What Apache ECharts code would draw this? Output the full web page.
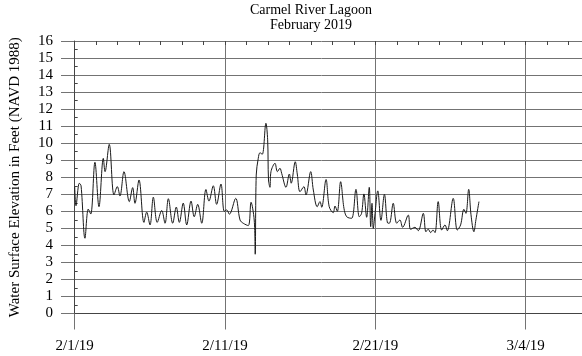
<!DOCTYPE html>
<html>
<head>
<meta charset="utf-8">
<script src="https://cdn.jsdelivr.net/npm/echarts@6/dist/echarts.min.js"></script>
<style>
html,body{margin:0;padding:0;background:#fff;}
#chart{width:582px;height:356px;}
</style>
</head>
<body>
<div id="chart"></div>
<script>
// Days since 2/1/19 00:00
const days = [0.00,0.09,0.32,0.44,0.71,0.94,1.11,1.40,1.68,1.98,2.10,2.39,2.72,2.95,3.13,3.41,3.78,4.01,4.17,4.45,
  4.79,4.98,5.21,5.44,5.71,6.02,6.25,6.48,6.78,7.03,7.24,7.51,7.75,8.05,8.27,8.51,8.79,9.08,9.29,9.59,
  9.82,10.12,10.35,10.52,10.70,11.14,11.44,11.66,12.01,12.20,12.42,12.49,12.56,12.70,12.82,12.98,13.23,13.35,13.41,13.51,
  13.58,13.86,14.02,14.20,14.32,14.62,14.85,14.98,15.26,15.40,15.59,15.86,16.00,16.33,16.51,16.78,16.97,17.09,17.39,17.61,
  17.89,18.01,18.17,18.40,18.63,18.82,19.16,19.46,19.69,19.85,20.01,20.20,20.38,20.48,20.57,20.66,20.77,20.97,21.19,21.43,
  21.67,21.81,22.04,22.28,22.50,22.69,23.08,23.24,23.54,23.77,24.12,24.30,24.46,24.63,24.79,24.93,25.15,25.39,25.62,25.78,
  26.19,26.47,26.70,26.93,27.07,27.26,27.42,27.62,27.76,27.97];
// Water surface elevation, feet (NAVD 1988)
const elevation = [7.45,6.33,7.65,7.50,4.42,6.13,5.84,8.88,6.27,9.11,8.33,9.93,6.96,7.45,6.90,8.33,6.57,7.39,6.47,7.84,
  5.35,5.95,5.20,6.83,5.35,6.05,5.30,6.74,5.30,6.25,5.35,6.48,5.20,6.60,5.68,6.41,5.30,7.28,6.60,7.50,
  6.41,7.60,6.00,6.08,5.83,6.76,5.49,5.30,5.16,6.53,5.49,3.48,8.13,9.11,9.44,9.35,11.17,10.20,7.84,7.41,
  8.33,8.82,8.33,8.53,8.23,7.41,8.19,7.65,8.91,8.19,7.15,7.45,6.96,8.33,7.25,6.27,6.57,6.24,7.87,6.27,
  5.92,6.31,6.00,7.74,6.18,5.68,5.59,7.29,5.68,5.88,7.02,5.65,7.41,5.10,6.47,5.00,5.78,7.20,5.47,7.00,
  5.30,5.33,6.47,5.30,5.49,5.06,5.78,4.94,5.06,4.86,5.88,4.80,4.95,4.75,4.90,4.75,6.57,4.90,5.20,4.86,
  6.76,4.90,5.20,6.12,5.88,7.29,5.80,4.80,5.50,6.57];
const xTickLabels = ['2/1/19', '2/11/19', '2/21/19', '3/4/19'];
const yMin = 0, yMax = 16, yStep = 1;
const xStep = 10.4, xMinorPerMajor = 7, xMax = 35.1;
const titleLines = ['Carmel River Lagoon', 'February 2019'];
const yName = 'Water Surface Elevation in Feet (NAVD 1988)';

const FONT = '"Liberation Serif", "Times New Roman", serif';
const GRID = '#737373';

const chart = echarts.init(document.getElementById('chart'), null, {renderer: 'canvas'});
chart.setOption({
  animation: false,
  backgroundColor: '#fff',
  textStyle: {fontFamily: FONT},
  graphic: [
    {type: 'text', x: 311, y: 10, style: {text: titleLines[0], font: '14px ' + FONT, fill: '#000', textAlign: 'center', textVerticalAlign: 'middle'}},
    {type: 'text', x: 311, y: 25, style: {text: titleLines[1], font: '14px ' + FONT, fill: '#000', textAlign: 'center', textVerticalAlign: 'middle'}}
  ],
  grid: [
    {left: 59.3, right: 0, top: 41, bottom: 42.5},
    {left: 74.7, right: 0, top: 41, bottom: 42.5}
  ],
  xAxis: [
    {gridIndex: 0, type: 'value', min: 0, max: 1, show: false},
    {gridIndex: 1, type: 'value', min: 0, max: xMax, interval: xStep,
     axisLine: {show: true, lineStyle: {color: '#444', width: 1}},
     axisTick: {show: true, inside: false, length: 16, lineStyle: {color: GRID, width: 1}},
     splitLine: {show: true, lineStyle: {color: GRID, width: 1}},
     axisLabel: {show: true, margin: 25, color: '#000', fontFamily: FONT, fontSize: 15,
       showMaxLabel: false,
       formatter: function (v, i) { return xTickLabels[i] || ''; }}
    },
    {gridIndex: 1, type: 'value', min: 0, max: xMax, interval: xStep / xMinorPerMajor,
     axisLine: {show: false},
     axisTick: {show: true, inside: true, length: 4, lineStyle: {color: '#444', width: 1}},
     splitLine: {show: false},
     axisLabel: {show: false}
    }
  ],
  yAxis: [
    {gridIndex: 0, type: 'value', min: yMin, max: yMax, interval: yStep,
     name: yName, nameLocation: 'middle', nameGap: 38,
     nameTextStyle: {color: '#000', fontFamily: FONT, fontSize: 15},
     axisLine: {show: false}, axisTick: {show: false},
     splitLine: {show: true, lineStyle: {color: GRID, width: 1}},
     axisLabel: {show: true, margin: 8, color: '#000', fontFamily: FONT, fontSize: 15}
    },
    {gridIndex: 1, type: 'value', min: yMin, max: yMax, interval: yStep,
     axisLine: {show: true, lineStyle: {color: '#444', width: 1}},
     axisTick: {show: false, inside: true},
     minorTick: {show: true, splitNumber: 2, length: 3, lineStyle: {color: '#444', width: 1}},
     splitLine: {show: false},
     axisLabel: {show: false}
    }
  ],
  series: [{
    type: 'line',
    xAxisIndex: 1, yAxisIndex: 1,
    data: days.map((d, i) => [d, elevation[i]]),
    showSymbol: false,
    smooth: 0.35,
    lineStyle: {color: '#1a1a1a', width: 1}
  }]
});
</script>
</body>
</html>
